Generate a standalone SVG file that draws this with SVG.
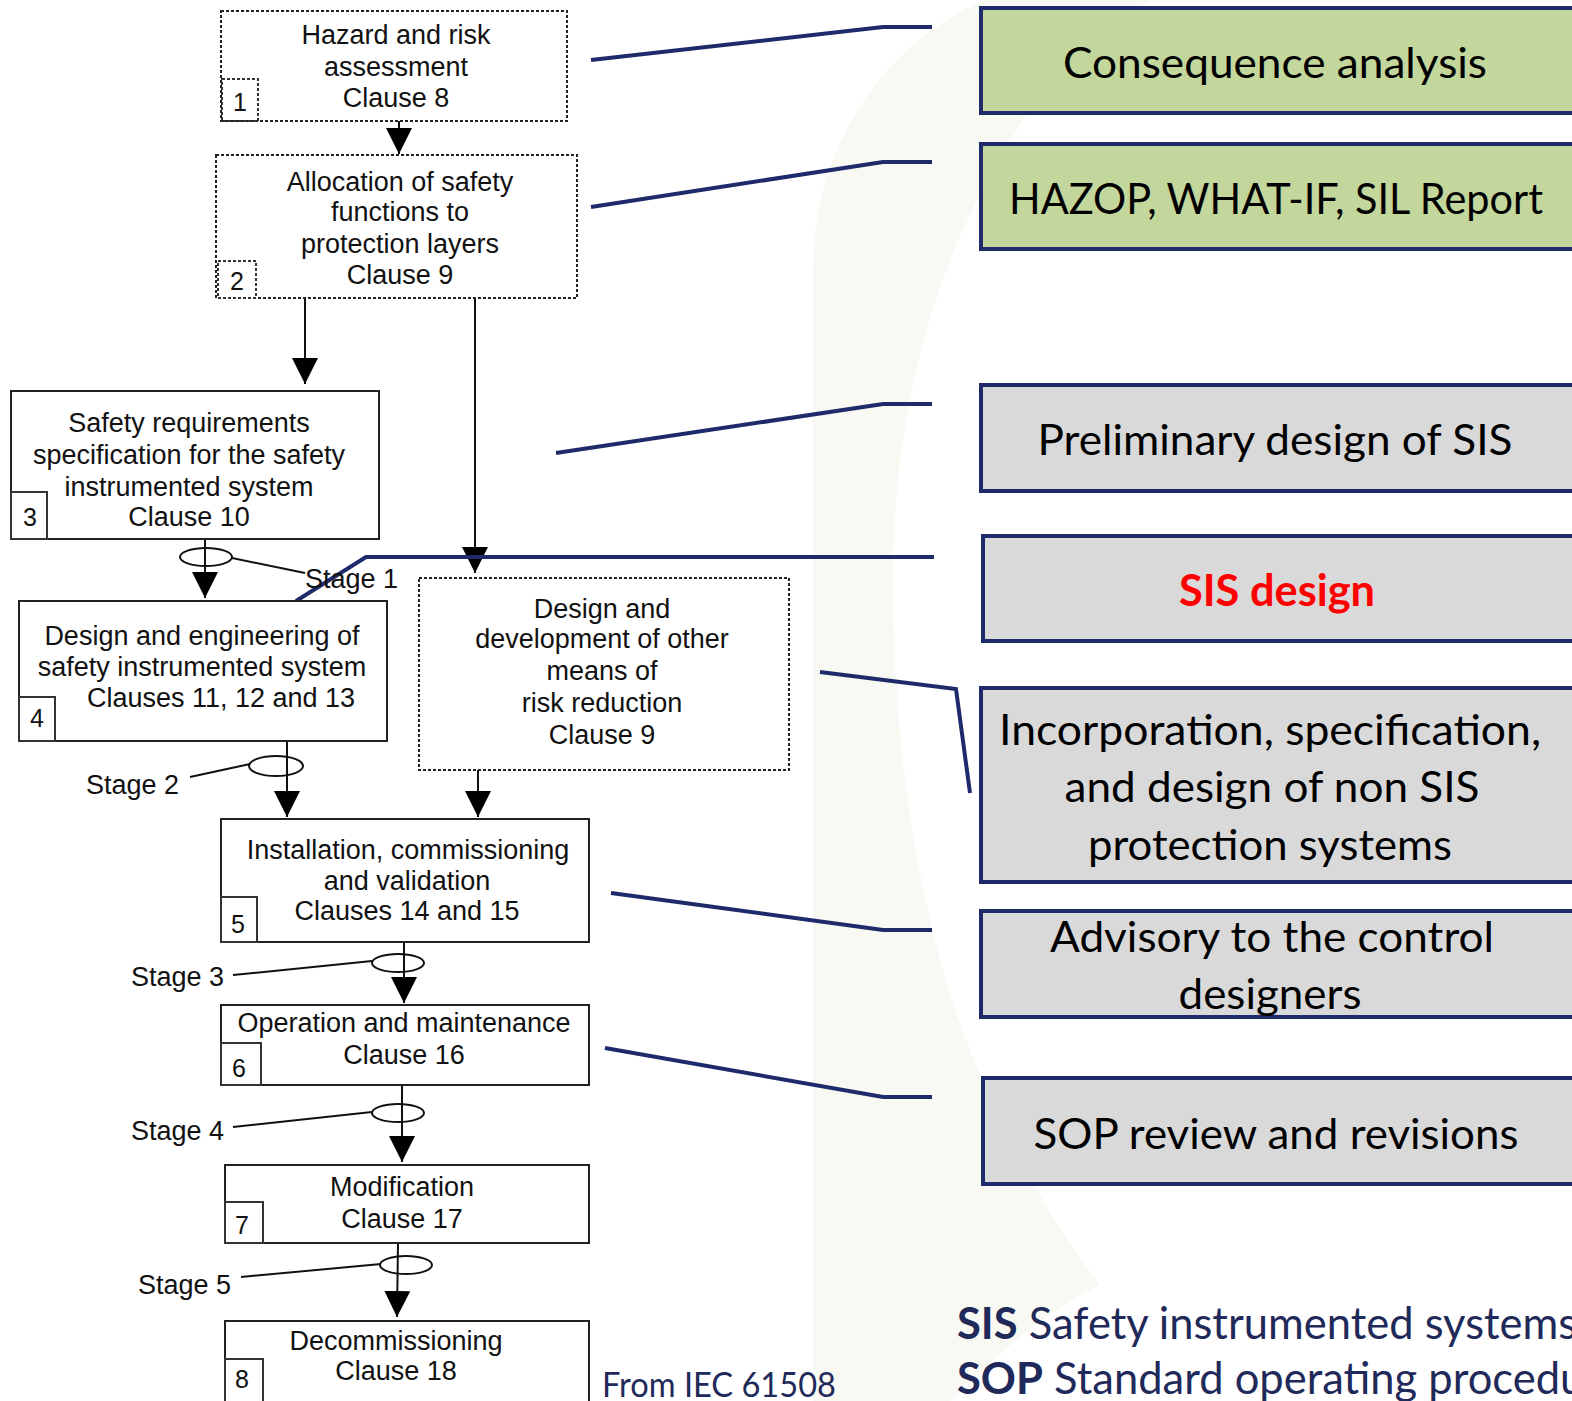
<svg xmlns="http://www.w3.org/2000/svg" width="1572" height="1401" viewBox="0 0 1572 1401">
<defs>
<marker id="arr" markerWidth="26" markerHeight="26" refX="26" refY="13" orient="auto" markerUnits="userSpaceOnUse"><path d="M0,0 L26,13 L0,26 z" fill="#000"/></marker>
<style>
.bx{fill:#fff;stroke:#222;stroke-width:2}
.dot{fill:#fff;stroke:#222;stroke-width:2;stroke-dasharray:3 2}
.nb{fill:none;stroke:#333;stroke-width:2}
.nbd{fill:none;stroke:#333;stroke-width:2;stroke-dasharray:3 2}
.t{font-family:"Liberation Sans",Arial,sans-serif;font-size:27px;fill:#111;text-anchor:middle}
.n{font-family:"Liberation Sans",Arial,sans-serif;font-size:25px;fill:#111;text-anchor:middle}
.st{font-family:"Liberation Sans",Arial,sans-serif;font-size:27px;fill:#111}
.ln{stroke:#111;stroke-width:2;fill:none}
.el{stroke:#111;stroke-width:2;fill:none}
.ar{stroke:#111;stroke-width:2;fill:none;marker-end:url(#arr)}
.cn{stroke:#1f2a6a;stroke-width:4;fill:none}
.g{fill:#c3d69b;stroke:#1f2a6a;stroke-width:4}
.gr{fill:#d9d9d9;stroke:#1f2a6a;stroke-width:4}
.rt{font-family:Lato,"Open Sans",sans-serif;font-size:43px;fill:#000;text-anchor:middle}
.ft{font-family:Lato,"Open Sans",sans-serif;font-size:43.5px;fill:#1f2a5a}
</style>
</defs>
<rect width="1572" height="1401" fill="#fff"/>
<path d="M985 0 C880 45 813 150 813 270 L813 1401 L950 1401 C1000 1350 1050 1310 1100 1285 C1020 1180 960 1050 930 920 C905 810 893 700 893 580 C893 400 940 240 1030 110 C1060 70 1100 30 1150 0 Z" fill="#f8f9f3"/>

<g id="connectors">
<line class="ar" x1="399" y1="121" x2="399" y2="154"/>
<line class="ar" x1="305" y1="298" x2="305" y2="384"/>
<line class="ar" x1="475" y1="298" x2="475" y2="573"/>
<line class="ar" x1="205" y1="539" x2="205" y2="598"/>
<line class="ar" x1="287" y1="741" x2="287" y2="817"/>
<line class="ar" x1="478" y1="770" x2="478" y2="817"/>
<line class="ar" x1="404" y1="942" x2="404" y2="1003"/>
<line class="ar" x1="402" y1="1085" x2="402" y2="1162"/>
<line class="ar" x1="398" y1="1243" x2="397" y2="1317"/>
<ellipse class="el" cx="206" cy="557" rx="26" ry="9"/>
<ellipse class="el" cx="276" cy="766" rx="27" ry="10"/>
<ellipse class="el" cx="398" cy="963" rx="26" ry="9"/>
<ellipse class="el" cx="398" cy="1113" rx="26" ry="9"/>
<ellipse class="el" cx="406" cy="1265" rx="26" ry="9"/>
<line class="ln" x1="232" y1="558" x2="305" y2="573"/>
<line class="ln" x1="190" y1="777" x2="250" y2="764"/>
<line class="ln" x1="233" y1="975" x2="372" y2="961"/>
<line class="ln" x1="233" y1="1127" x2="372" y2="1112"/>
<line class="ln" x1="241" y1="1277" x2="381" y2="1264"/>
<polyline class="cn" points="591,60 883,27 932,27"/>
<polyline class="cn" points="591,207 883,162 932,162"/>
<polyline class="cn" points="556,453 883,404 932,404"/>
<polyline class="cn" points="296,601 366,557 934,557"/>
<polyline class="cn" points="820,672 956,689 970,793"/>
<polyline class="cn" points="611,893 883,930 932,930"/>
<polyline class="cn" points="605,1048 883,1097 932,1097"/>
</g>

<g id="stage-labels">
<text class="st" x="305" y="588">Stage 1</text>
<text class="st" x="86" y="794">Stage 2</text>
<text class="st" x="131" y="986">Stage 3</text>
<text class="st" x="131" y="1140">Stage 4</text>
<text class="st" x="138" y="1294">Stage 5</text>
</g>

<g id="n1">
<rect class="dot" x="221" y="11" width="346" height="110"/>
<rect class="nbd" x="222" y="79" width="36" height="42"/>
<text class="n" x="240" y="111">1</text>
<text class="t" x="396" y="44">Hazard and risk</text>
<text class="t" x="396" y="76">assessment</text>
<text class="t" x="396" y="107">Clause 8</text>
</g>
<g id="n2">
<rect class="dot" x="216" y="155" width="361" height="143"/>
<rect class="nbd" x="218" y="261" width="38" height="37"/>
<text class="n" x="237" y="290">2</text>
<text class="t" x="400" y="191">Allocation of safety</text>
<text class="t" x="400" y="221">functions to</text>
<text class="t" x="400" y="253">protection layers</text>
<text class="t" x="400" y="284">Clause 9</text>
</g>
<g id="n3">
<rect class="bx" x="11" y="391" width="368" height="148"/>
<rect class="nb" x="11" y="492" width="36" height="47"/>
<text class="n" x="30" y="526">3</text>
<text class="t" x="189" y="432">Safety requirements</text>
<text class="t" x="189" y="464">specification for the safety</text>
<text class="t" x="189" y="496">instrumented system</text>
<text class="t" x="189" y="526">Clause 10</text>
</g>
<g id="n4">
<rect class="bx" x="19" y="601" width="368" height="140"/>
<rect class="nb" x="19" y="697" width="36" height="44"/>
<text class="n" x="37" y="727">4</text>
<text class="t" x="202" y="645">Design and engineering of</text>
<text class="t" x="202" y="676">safety instrumented system</text>
<text class="t" x="221" y="707">Clauses 11, 12 and 13</text>
</g>
<g id="n-other">
<rect class="dot" x="419" y="578" width="370" height="192"/>
<text class="t" x="602" y="618">Design and</text>
<text class="t" x="602" y="648">development of other</text>
<text class="t" x="602" y="680">means of</text>
<text class="t" x="602" y="712">risk reduction</text>
<text class="t" x="602" y="744">Clause 9</text>
</g>
<g id="n5">
<rect class="bx" x="221" y="819" width="368" height="123"/>
<rect class="nb" x="221" y="897" width="36" height="45"/>
<text class="n" x="238" y="933">5</text>
<text class="t" x="408" y="859">Installation, commissioning</text>
<text class="t" x="407" y="890">and validation</text>
<text class="t" x="407" y="920">Clauses 14 and 15</text>
</g>
<g id="n6">
<rect class="bx" x="221" y="1005" width="368" height="80"/>
<rect class="nb" x="221" y="1043" width="40" height="42"/>
<text class="n" x="239" y="1077">6</text>
<text class="t" x="404" y="1032">Operation and maintenance</text>
<text class="t" x="404" y="1064">Clause 16</text>
</g>
<g id="n7">
<rect class="bx" x="225" y="1165" width="364" height="78"/>
<rect class="nb" x="225" y="1202" width="38" height="41"/>
<text class="n" x="242" y="1234">7</text>
<text class="t" x="402" y="1196">Modification</text>
<text class="t" x="402" y="1228">Clause 17</text>
</g>
<g id="n8">
<rect class="bx" x="225" y="1321" width="364" height="90"/>
<rect class="nb" x="225" y="1359" width="38" height="52"/>
<text class="n" x="242" y="1388">8</text>
<text class="t" x="396" y="1350">Decommissioning</text>
<text class="t" x="396" y="1380">Clause 18</text>
</g>

<text x="602" y="1397" font-family="Lato,'Open Sans',sans-serif" font-size="34" fill="#1f2a5a" textLength="234" lengthAdjust="spacingAndGlyphs">From IEC 61508</text>

<g id="r1">
<rect class="g" x="981" y="8" width="600" height="105"/>
<text class="rt" x="1275" y="78" textLength="424" lengthAdjust="spacingAndGlyphs">Consequence analysis</text>
</g>
<g id="r2">
<rect class="g" x="981" y="144" width="600" height="105"/>
<text class="rt" x="1276" y="214" textLength="534" lengthAdjust="spacingAndGlyphs">HAZOP, WHAT-IF, SIL Report</text>
</g>
<g id="r3">
<rect class="gr" x="981" y="385" width="600" height="106"/>
<text class="rt" x="1275" y="455" textLength="475" lengthAdjust="spacingAndGlyphs">Preliminary design of SIS</text>
</g>
<g id="r4">
<rect class="gr" x="983" y="536" width="600" height="105"/>
<text class="rt" x="1277" y="606" font-weight="bold" style="fill:#ff0000" textLength="196" lengthAdjust="spacingAndGlyphs">SIS design</text>
</g>
<g id="r5">
<rect class="gr" x="981" y="688" width="600" height="194"/>
<text class="rt" x="1270" y="745" textLength="542" lengthAdjust="spacingAndGlyphs">Incorporation, specification,</text>
<text class="rt" x="1272" y="802" textLength="415" lengthAdjust="spacingAndGlyphs">and design of non SIS</text>
<text class="rt" x="1270" y="860" textLength="364" lengthAdjust="spacingAndGlyphs">protection systems</text>
</g>
<g id="r6">
<rect class="gr" x="981" y="911" width="600" height="106"/>
<text class="rt" x="1272" y="952" textLength="444" lengthAdjust="spacingAndGlyphs">Advisory to the control</text>
<text class="rt" x="1270" y="1009" textLength="183" lengthAdjust="spacingAndGlyphs">designers</text>
</g>
<g id="r7">
<rect class="gr" x="983" y="1078" width="600" height="106"/>
<text class="rt" x="1276" y="1149" textLength="485" lengthAdjust="spacingAndGlyphs">SOP review and revisions</text>
</g>

<g id="footer">
<text class="ft" x="957" y="1339"><tspan font-weight="bold">SIS</tspan> Safety instrumented systems</text>
<text class="ft" x="957" y="1394"><tspan font-weight="bold">SOP</tspan> Standard operating procedures</text>
</g>
</svg>
